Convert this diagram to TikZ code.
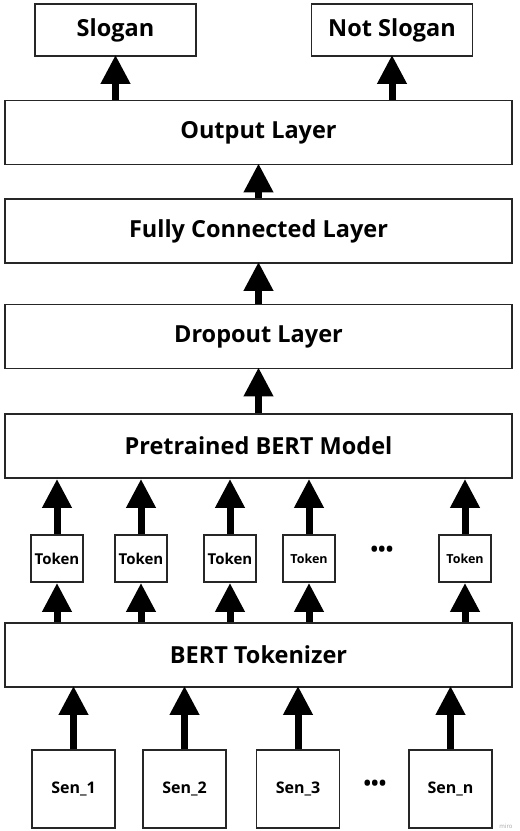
\documentclass[tikz,border=0pt]{standalone}
\usepackage{fontspec}
\setmainfont{Open Sans}
\usetikzlibrary{arrows.meta}
\begin{document}
\begin{tikzpicture}[x=1pt,y=-1pt,
  box/.style={draw=black!85, line width=1.8pt, fill=white, inner sep=0pt, font=\bfseries},
  layer/.style={box, minimum width=507pt, minimum height=64pt, font=\fontsize{23.5}{26}\selectfont\bfseries},
  outbox/.style={box, minimum width=161pt, minimum height=52pt, font=\fontsize{23.5}{26}\selectfont\bfseries},
  tokbox/.style={box, minimum width=52pt, minimum height=47pt, font=\fontsize{15}{17}\selectfont\bfseries},
  sentbox/.style={box, minimum width=83pt, minimum height=78pt, font=\fontsize{16}{18}\selectfont\bfseries},
  flow/.style={line width=7pt, -{Triangle[width=28pt,length=29pt]}, black},
  dots/.style={font=\fontsize{20}{22}\selectfont\bfseries}
]
\useasboundingbox (0,0) rectangle (520,831);
\fill[white] (0,0) rectangle (520,831);

\node[outbox] (slogan) at (115.5,30) {Slogan};
\node[outbox] (notslogan) at (392,30) {Not Slogan};
\node[layer] (output) at (258.5,132.5) {Output Layer};
\node[layer] (fc) at (258.5,231) {Fully Connected Layer};
\node[layer] (dropout) at (258.5,336.5) {Dropout Layer};
\node[layer] (bert) at (258.5,446) {Pretrained BERT Model};
\node[tokbox] (t1) at (57,558.5) {Token};
\node[tokbox] (t2) at (141,558.5) {Token};
\node[tokbox] (t3) at (230,558.5) {Token};
\node[tokbox, font=\fontsize{12.5}{14}\selectfont\bfseries] (t4) at (309,558.5) {Token};
\node[dots] (tdots) at (382,551) {•••};
\node[tokbox, font=\fontsize{12.5}{14}\selectfont\bfseries] (t6) at (465,558.5) {Token};
\node[layer] (tokenizer) at (258.5,655) {BERT Tokenizer};
\node[sentbox] (s1) at (73.5,789) {Sen\_1};
\node[sentbox] (s2) at (184.5,789) {Sen\_2};
\node[sentbox] (s3) at (298,789) {Sen\_3};
\node[dots] (sdots) at (375,785) {•••};
\node[sentbox] (sn) at (450.5,789) {Sen\_n};
\node[text=black!35, font=\fontsize{6}{7}\selectfont] (miro) at (506,826) {miro};

\draw[flow] (output.north -| slogan) -- ([yshift=2pt]slogan.south);
\draw[flow] (output.north -| notslogan) -- ([yshift=2pt]notslogan.south);
\draw[flow] (fc.north) -- ([yshift=2pt]output.south);
\draw[flow] (dropout.north) -- ([yshift=2pt]fc.south);
\draw[flow] (bert.north) -- ([yshift=2pt]dropout.south);
\foreach \t in {t1,t2,t3,t4,t6}{
  \draw[flow] (\t.north) -- (\t.north |- bert.south);
  \draw[flow] (\t.south |- tokenizer.north) -- (\t.south);
}
\foreach \s in {s1,s2,s3,sn}{
  \draw[flow] (\s.north) -- ([yshift=2pt]\s.north |- tokenizer.south);
}
\end{tikzpicture}
\end{document}
